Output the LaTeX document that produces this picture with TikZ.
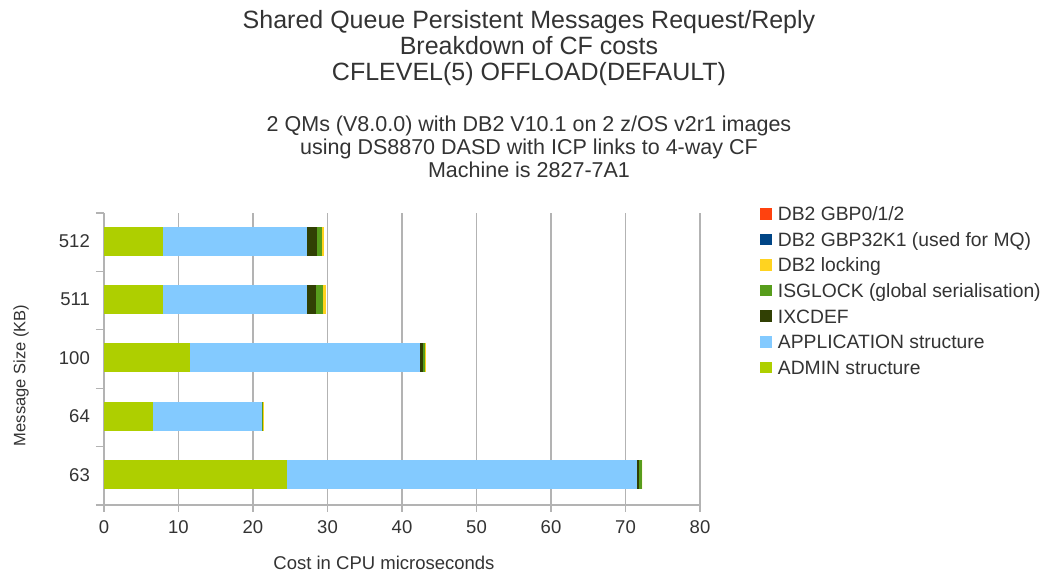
\documentclass[tikz,border=0pt]{standalone}
\usepackage{fontspec}
\setmainfont{Liberation Sans}
\definecolor{cGBPa}{HTML}{FF420E}
\definecolor{cGBPb}{HTML}{004586}
\definecolor{cLock}{HTML}{FFD320}
\definecolor{cIsg}{HTML}{579D1C}
\definecolor{cIxc}{HTML}{314004}
\definecolor{cApp}{HTML}{83CAFF}
\definecolor{cAdmin}{HTML}{AECF00}
\definecolor{txt}{HTML}{333333}
\definecolor{gridc}{HTML}{B3B3B3}
\tikzset{
  title/.style={font=\fontsize{25}{30}\selectfont, text=txt, anchor=base, inner sep=0},
  subtitle/.style={font=\fontsize{21.5}{26}\selectfont, text=txt, anchor=base, inner sep=0},
  ticklab/.style={font=\fontsize{18.5}{22}\selectfont, text=txt, inner sep=0},
  axtitle/.style={font=\fontsize{18.5}{22}\selectfont, text=txt, inner sep=0},
  legtext/.style={font=\fontsize{19.3}{23}\selectfont, text=txt, anchor=base west, inner sep=0},
  legkey/.style={minimum size=11.5pt, inner sep=0, draw=none},
  gridline/.style={draw=gridc, line width=1.2pt},
}
% one horizontal stacked bar: centre y, then ADMIN, APPLICATION, IXCDEF, ISGLOCK, DB2 locking
\newcommand\stackbar[6]{%
  \pgfmathsetmacro\sA{#2}%
  \pgfmathsetmacro\sB{\sA+#3}%
  \pgfmathsetmacro\sC{\sB+#4}%
  \pgfmathsetmacro\sD{\sC+#5}%
  \pgfmathsetmacro\sE{\sD+#6}%
  \fill[cAdmin] (0,#1-14.5) rectangle (\sA,#1+14.5);
  \fill[cApp]   (\sA,#1-14.5) rectangle (\sB,#1+14.5);
  \fill[cIxc]   (\sB,#1-14.5) rectangle (\sC,#1+14.5);
  \fill[cIsg]   (\sC,#1-14.5) rectangle (\sD,#1+14.5);
  \fill[cLock]  (\sD,#1-14.5) rectangle (\sE,#1+14.5);
}
\begin{document}
\begin{tikzpicture}[x=1pt,y=-1pt]
\fill[white] (0,0) rectangle (1050,571);
\useasboundingbox (0,0) rectangle (1050,571);

% titles
\node[title] (t1) at (529,28.3) {Shared Queue Persistent Messages Request/Reply};
\node[title] (t2) at (529,54.3) {Breakdown of CF costs};
\node[title] (t3) at (529,80.3) {CFLEVEL(5) OFFLOAD(DEFAULT)};
\node[subtitle] (s1) at (529,131.7) {2 QMs (V8.0.0) with DB2 V10.1 on 2 z/OS v2r1 images};
\node[subtitle] (s2) at (529,154.7) {using DS8870 DASD with ICP links to 4-way CF};
\node[subtitle] (s3) at (529,177.7) {Machine is 2827-7A1};

% plot area: x = 0..80 maps to 104..700
\begin{scope}[xshift=104pt, x=7.45pt]
  \foreach \v in {10,20,...,80}
    \draw[gridline] (\v,213) -- (\v,505);
  \draw[gridline] (0,213) -- (0,505);
  \draw[gridline] (0,505) -- (80,505);
  \foreach \v in {0,10,...,80} {
    \draw[gridline] (\v,505) -- (\v,512);
    \node[ticklab, anchor=base] (xl\v) at (\v,533.3) {\v};
  }
  \foreach \k in {0,...,5}
    \draw[gridline] (-1.1,{213+58.4*\k}) -- (0,{213+58.4*\k});

  \stackbar{241}{7.9}{19.4}{1.35}{0.55}{0.35}
  \stackbar{299.4}{7.9}{19.4}{1.2}{0.95}{0.3}
  \stackbar{357.8}{11.55}{30.85}{0.45}{0.25}{0.05}
  \stackbar{416.2}{6.6}{14.6}{0.05}{0.15}{0.05}
  \stackbar{474.6}{24.55}{47.0}{0.25}{0.45}{0}
\end{scope}

% category labels
\node[ticklab, anchor=base east] (c512) at (90,247.5) {512};
\node[ticklab, anchor=base east] (c511) at (90,305.9) {511};
\node[ticklab, anchor=base east] (c100) at (90,364.3) {100};
\node[ticklab, anchor=base east] (c64)  at (90,422.7) {64};
\node[ticklab, anchor=base east] (c63)  at (90,481.1) {63};

% axis titles
\node[axtitle, anchor=base] (xt) at (384,569) {Cost in CPU microseconds};
\node[axtitle, font=\fontsize{16.5}{20}\selectfont, rotate=90] (yt) at (21,375.5) {Message Size (KB)};

% legend
\foreach \i/\c/\t in {0/cGBPa/{DB2 GBP0/1/2},
                      1/cGBPb/{DB2 GBP32K1 (used for MQ)},
                      2/cLock/{DB2 locking},
                      3/cIsg/{ISGLOCK (global serialisation)},
                      4/cIxc/{IXCDEF},
                      5/cApp/{APPLICATION structure},
                      6/cAdmin/{ADMIN structure}} {
  \node[legkey, fill=\c] (k\i) at (766,{214+25.55*\i}) {};
  \node[legtext] (l\i) at (777.7,{214+25.55*\i+6.8}) {\t};
}
\end{tikzpicture}
\end{document}
